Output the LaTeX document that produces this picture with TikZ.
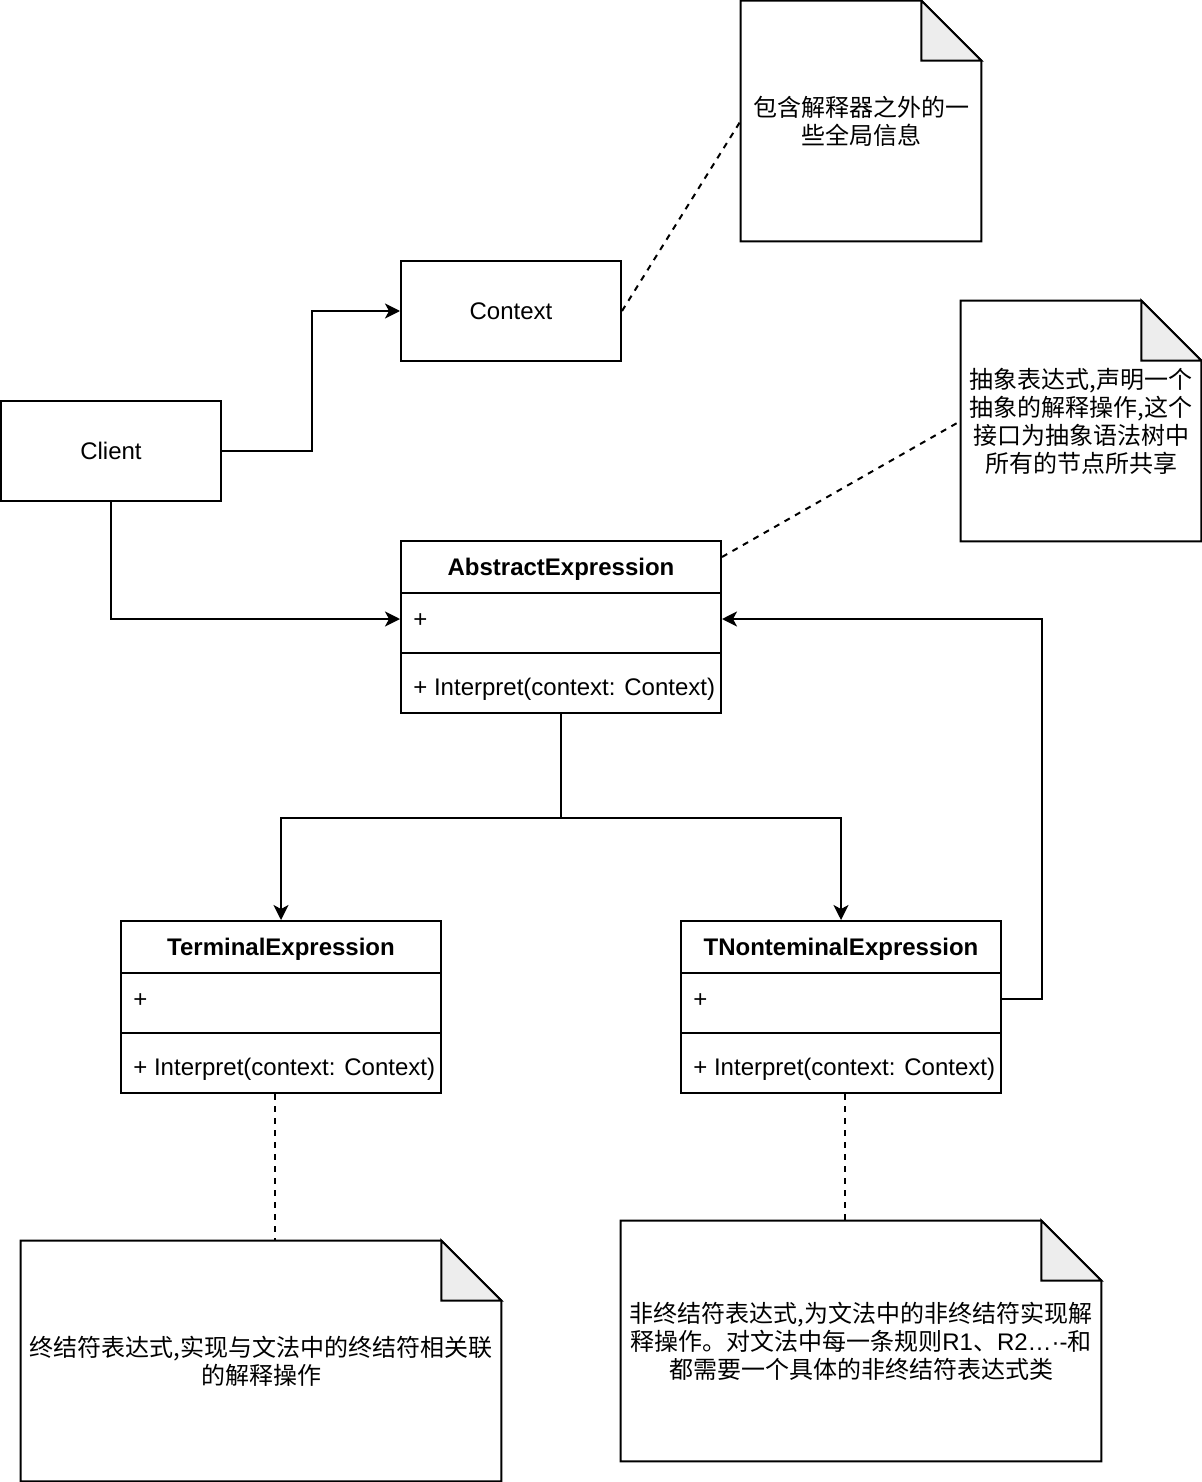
\documentclass[tikz,border=0pt]{standalone}
\usepackage{fontspec}
\setmainfont{Liberation Sans}
\newfontfamily\cjk{Noto Sans CJK SC}
\usetikzlibrary{arrows.meta,calc}
\begin{document}
\begin{tikzpicture}[x=0.5pt,y=-0.5pt,
  font=\fontsize{12pt}{14pt}\selectfont,
  box/.style={draw,line width=1pt,minimum width=110pt,minimum height=50pt,inner sep=0pt},
  hdr/.style={draw,line width=1pt,minimum width=160pt,minimum height=26pt,inner sep=0pt},
  ttl/.style={inner sep=0pt,font=\fontsize{12pt}{14pt}\selectfont\bfseries},
  sect/.style={draw,line width=1pt,minimum width=160pt,minimum height=30pt,inner sep=0pt},
  txt/.style={inner sep=0pt,anchor=west},
  notebox/.style={minimum width=120pt,minimum height=120pt,inner sep=0pt,align=center,font=\cjk\fontsize{12pt}{14pt}\selectfont},
  widenote/.style={minimum width=240pt,minimum height=120pt,inner sep=0pt,align=center,font=\cjk\fontsize{12pt}{14pt}\selectfont},
  notefold/.style={fill=black!7,line width=1pt,line join=miter},
  arr/.style={line width=1pt,-{Stealth[length=7.5pt,width=7.5pt,inset=2pt]}},
  dsh/.style={line width=1pt,dash pattern=on 3pt off 3pt},
]
\useasboundingbox (0,0) rectangle (1202,1482);

\newcommand{\drawnote}[1]{%
  \draw[line width=1pt,line join=miter,fill=white] (#1.north west) -- ($(#1.north east)+(-60,0)$) -- ($(#1.north east)+(0,60)$) -- (#1.south east) -- (#1.south west) -- cycle;
  \draw[notefold] ($(#1.north east)+(-60,0)$) -- ($(#1.north east)+(-60,60)$) -- ($(#1.north east)+(0,60)$) -- cycle;
}

\node[notebox] (n1) at (861,121) {};
\drawnote{n1}
\node[notebox] at (n1.center) {包含解释器之外的一\\些全局信息};

\node[notebox] (n2) at (1081,421) {};
\drawnote{n2}
\node[notebox] at (n2.center) {抽象表达式,声明一个\\抽象的解释操作,这个\\接口为抽象语法树中\\所有的节点所共享};

\node[widenote] (n3) at (261,1361) {};
\drawnote{n3}
\node[widenote] at (n3.center) {终结符表达式,实现与文法中的终结符相关联\\的解释操作};

\node[widenote] (n4) at (861,1341) {};
\drawnote{n4}
\node[widenote] at (n4.center) {非终结符表达式,为文法中的非终结符实现解\\释操作。对文法中每一条规则{\rmfamily R1}、{\rmfamily R2…·-}和\\都需要一个具体的非终结符表达式类};

\node[box] (ctx) at (511,311) {Context};
\node[box] (client) at (111,451) {Client};

% AbstractExpression
\node[hdr] (absh) at (561,567) {};
\node[ttl] at (561,569) {AbstractExpression};
\node[sect] (absa) at (561,623) {};
\node[sect] (absm) at (561,683) {};
\node[txt] at (413,621) {+};
\node[txt] at (413,689) {+ Interpret(context: Context)};

% TerminalExpression
\node[hdr] (termh) at (281,947) {};
\node[ttl] at (281,949) {TerminalExpression};
\node[sect] (terma) at (281,1003) {};
\node[sect] (termm) at (281,1063) {};
\node[txt] at (133,1001) {+};
\node[txt] at (133,1069) {+ Interpret(context: Context)};

% TNonteminalExpression
\node[hdr] (nonh) at (841,947) {};
\node[ttl] at (841,949) {TNonteminalExpression};
\node[sect] (nona) at (841,1003) {};
\node[sect] (nonm) at (841,1063) {};
\node[txt] at (693,1001) {+};
\node[txt] at (693,1069) {+ Interpret(context: Context)};

% connectors
\draw[arr] (client.east) -- ++(90,0) |- (ctx.west);
\draw[arr] (client.south) |- ([yshift=2pt]absa.west);
\draw[dsh] (ctx.east) -- (n1.west);
\draw[dsh] ([yshift=5pt]absh.east) -- (n2.west);
\draw[arr] (absm.south) -- ++(0,104) -| (termh.north);
\draw[arr] (absm.south) -- ++(0,104) -| (nonh.north);
\draw[arr] ([yshift=2pt]nona.east) -- ++(40,0) |- ([yshift=2pt]absa.east);
\draw[dsh] ([xshift=-3pt]termm.south) -- ([xshift=-3pt]termm.south |- n3.north);
\draw[dsh] ([xshift=2pt]nonm.south) -- ([xshift=2pt]nonm.south |- n4.north);
\end{tikzpicture}
\end{document}
